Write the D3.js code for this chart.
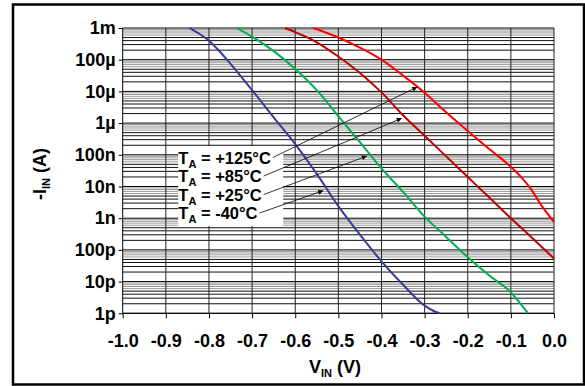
<!DOCTYPE html>
<html>
<head>
<meta charset="utf-8">
<script src="https://cdn.jsdelivr.net/npm/d3@7"></script>
<style>
  body { margin: 0; background: #fff; }
  text { font-family: "Liberation Sans", Arial, sans-serif; font-weight: bold; fill: #000; }
</style>
</head>
<body>
<div id="chart"></div>
<script>
// axis ticks
const vTicks = [-1.0, -0.9, -0.8, -0.7, -0.6, -0.5, -0.4, -0.3, -0.2, -0.1, 0.0];
const iTicks = [1e-3, 1e-4, 1e-5, 1e-6, 1e-7, 1e-8, 1e-9, 1e-10, 1e-11, 1e-12];
const iTickLabels = ["1m", "100µ", "10µ", "1µ", "100n", "10n", "1n", "100p", "10p", "1p"];

// series: VIN (V) and log10(-IIN)
const tempLabels = ["+125°C", "+85°C", "+25°C", "-40°C"];
const colors = ["#ff0000", "#c00000", "#00b050", "#3a3a98"];

const vin125 = [-0.558, -0.50, -0.45, -0.40, -0.35, -0.30, -0.25, -0.20, -0.15, -0.10, -0.07, -0.055, -0.03, 0.0];
const logI125 = [-3.0, -3.30, -3.62, -4.00, -4.50, -5.04, -5.66, -6.25, -6.82, -7.38, -7.80, -8.05, -8.58, -9.12];

const vin85 = [-0.624, -0.60, -0.55, -0.50, -0.45, -0.40, -0.35, -0.30, -0.25, -0.20, -0.15, -0.10, -0.05, 0.0];
const logI85 = [-3.0, -3.13, -3.45, -3.90, -4.42, -5.03, -5.75, -6.40, -7.05, -7.70, -8.35, -9.00, -9.63, -10.27];

const vin25 = [-0.735, -0.70, -0.65, -0.60, -0.55, -0.50, -0.45, -0.40, -0.35, -0.30, -0.25, -0.20, -0.15, -0.10, -0.08, -0.06];
const logI25 = [-3.0, -3.27, -3.73, -4.29, -4.96, -5.78, -6.60, -7.43, -8.17, -8.95, -9.59, -10.23, -10.81, -11.34, -11.66, -12.0];

const vinM40 = [-0.845, -0.825, -0.80, -0.775, -0.75, -0.70, -0.65, -0.60, -0.55, -0.50, -0.45, -0.40, -0.35, -0.30, -0.28, -0.265];
const logIM40 = [-3.0, -3.16, -3.40, -3.74, -4.13, -4.96, -5.82, -6.66, -7.60, -8.62, -9.52, -10.36, -11.10, -11.76, -11.92, -12.0];

// where each label's arrow points: [VIN, log10 I]
const arrowTips = [[-0.317, -4.86], [-0.353, -5.85], [-0.434, -7.04], [-0.535, -8.13]];

const series = [
  { v: vin125, l: logI125 },
  { v: vin85, l: logI85 },
  { v: vin25, l: logI25 },
  { v: vinM40, l: logIM40 }
];

const W = 585, H = 386;
const margin = { top: 28, right: 31, bottom: 72.7, left: 122.7 };
const width = W - margin.left - margin.right;
const height = H - margin.top - margin.bottom;

const svg = d3.select("#chart").append("svg")
  .attr("width", W)
  .attr("height", H);

// outer frame
svg.append("rect")
  .attr("x", 13).attr("y", 4.5)
  .attr("width", 571).attr("height", 380)
  .attr("fill", "none")
  .attr("stroke", "#000")
  .attr("stroke-width", 2.5);

const g = svg.append("g").attr("transform", `translate(${margin.left},${margin.top})`);

const x = d3.scaleLinear().domain([-1, 0]).range([0, width]);
const y = d3.scaleLog().domain([1e-12, 1e-3]).range([height, 0]);

// minor horizontal grid
const minor = [];
for (let e = -12; e < -3; e++) {
  for (let m = 2; m <= 9; m++) minor.push({ val: m * Math.pow(10, e), m: m });
}
g.selectAll(".minor")
  .data(minor)
  .enter().append("line")
  .attr("x1", 0).attr("x2", width)
  .attr("y1", d => y(d.val)).attr("y2", d => y(d.val))
  .attr("stroke", d => d.m >= 6 ? "#999" : "#111")
  .attr("stroke-width", 1);

// major horizontal grid
g.selectAll(".major")
  .data(iTicks)
  .enter().append("line")
  .attr("x1", 0).attr("x2", width)
  .attr("y1", d => y(d)).attr("y2", d => y(d))
  .attr("stroke", "#000")
  .attr("stroke-width", 1);

// vertical grid
g.selectAll(".vgrid")
  .data(vTicks.slice(1))
  .enter().append("line")
  .attr("x1", d => x(d)).attr("x2", d => x(d))
  .attr("y1", 0).attr("y2", height)
  .attr("stroke", "#222")
  .attr("stroke-width", 1);

// axes
const xAxis = g.append("g")
  .attr("transform", `translate(0,${height})`)
  .call(d3.axisBottom(x).tickValues(vTicks).tickSize(5).tickPadding(16).tickFormat(d => d.toFixed(1)));
xAxis.selectAll("text").style("font-size", "18px");

const yAxis = g.append("g")
  .call(d3.axisLeft(y).tickValues(iTicks).tickSize(4).tickPadding(3).tickFormat((d, i) => iTickLabels[i]));
yAxis.selectAll("text").style("font-size", "18px");
[xAxis, yAxis].forEach(a => a.selectAll(".domain, line").attr("stroke", "#000"));
yAxis.select(".domain").attr("d", `M0,0V${height}`);
xAxis.select(".domain").attr("d", `M0,0H${width}`);

// legend box
g.append("rect")
  .attr("x", 55.5).attr("y", 118)
  .attr("width", 105).attr("height", 80)
  .attr("fill", "#fff");

// curves
const line = d3.line()
  .x(d => x(d[0]))
  .y(d => y(Math.pow(10, d[1])))
  .curve(d3.curveMonotoneX);

series.forEach((s, i) => {
  g.append("path")
    .datum(s.v.map((v, k) => [v, s.l[k]]))
    .attr("d", line)
    .attr("fill", "none")
    .attr("stroke", colors[i])
    .attr("stroke-width", 2);
});

// arrow marker
svg.append("defs").append("marker")
  .attr("id", "head")
  .attr("viewBox", "0 0 10 10")
  .attr("refX", 10).attr("refY", 5)
  .attr("markerWidth", 7).attr("markerHeight", 5)
  .attr("markerUnits", "userSpaceOnUse")
  .attr("orient", "auto")
  .append("path")
  .attr("d", "M0,0L10,5L0,10Z")
  .attr("fill", "#000");

// legend labels with arrows
const legX = 55.6, legY0 = 135.5, legStep = 18.5;
tempLabels.forEach((t, i) => {
  const txt = g.append("text")
    .attr("x", legX)
    .attr("y", legY0 + i * legStep)
    .style("font-size", "16.5px");
  txt.append("tspan").text("T");
  txt.append("tspan").attr("dy", 4).style("font-size", "11px").text("A");
  txt.append("tspan").attr("dy", -4).text(" = " + t);
  const bb = txt.node().getBBox();
  g.append("line")
    .attr("x1", bb.x + bb.width + 2)
    .attr("y1", legY0 + i * legStep - 6)
    .attr("x2", x(arrowTips[i][0]))
    .attr("y2", y(Math.pow(10, arrowTips[i][1])))
    .attr("stroke", "#000")
    .attr("stroke-width", 0.8)
    .attr("marker-end", "url(#head)");
});

// axis titles
const yt = svg.append("text")
  .attr("transform", "translate(46,174) rotate(-90)")
  .attr("text-anchor", "middle")
  .style("font-size", "18px");
yt.append("tspan").text("-I");
yt.append("tspan").attr("dy", 4).style("font-size", "11px").text("IN");
yt.append("tspan").attr("dy", -4).text(" (A)");

const xt = svg.append("text")
  .attr("x", 335).attr("y", 373)
  .attr("text-anchor", "middle")
  .style("font-size", "18px");
xt.append("tspan").text("V");
xt.append("tspan").attr("dy", 4).style("font-size", "11px").text("IN");
xt.append("tspan").attr("dy", -4).text(" (V)");
</script>
</body>
</html>
